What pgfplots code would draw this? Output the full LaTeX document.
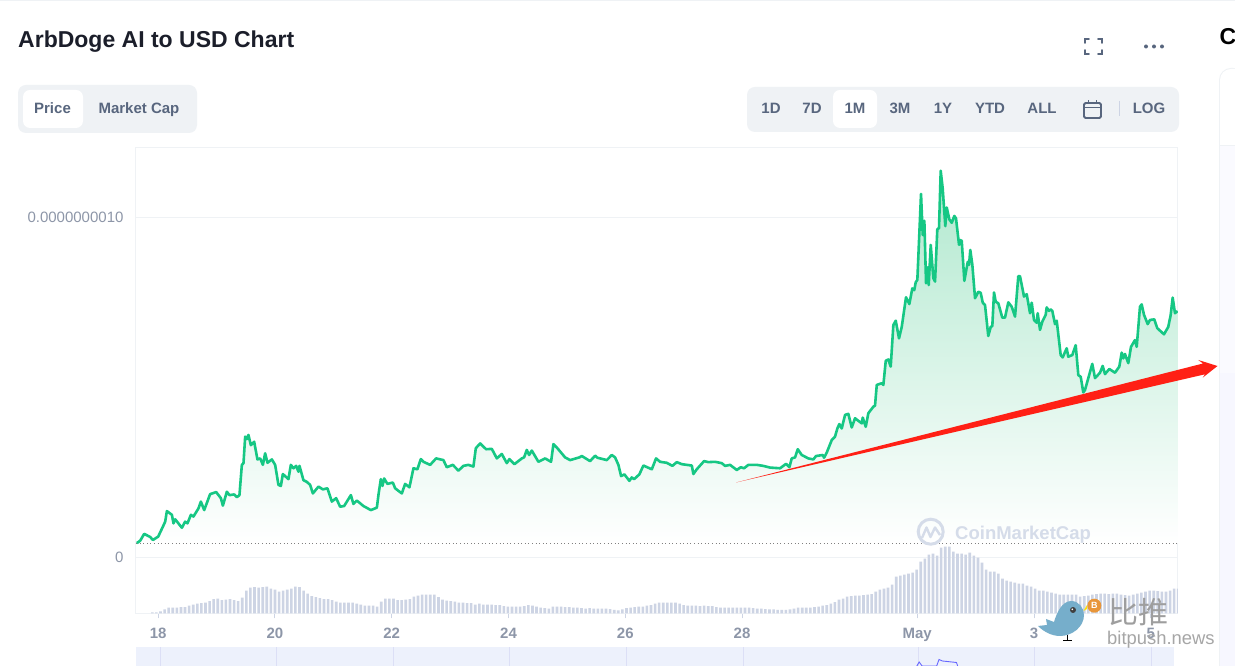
\documentclass[border=0pt]{standalone}
\usepackage{fontspec}
\setmainfont{Liberation Sans}
\newfontfamily\cjk{Noto Sans CJK SC}
\usepackage{pgfplots}
\usepackage{pgfplotstable}
\pgfplotsset{compat=1.18}

\definecolor{cmcgreen}{HTML}{16C784}
\definecolor{fillgreen}{HTML}{B0E8CE}
\definecolor{frame}{HTML}{EFF2F5}
\definecolor{ticktext}{HTML}{8D96A8}
\definecolor{btntext}{HTML}{58667E}
\definecolor{titletext}{HTML}{1B1E2A}
\definecolor{volbar}{HTML}{CDD4E4}
\definecolor{navbg}{HTML}{EDF1FC}
\definecolor{wmark}{HTML}{D5DCE9}
\definecolor{arrowred}{HTML}{FF2015}
\definecolor{birdblue}{HTML}{76AECB}
\definecolor{coin}{HTML}{E8963A}

% x: day (Apr 18 = 18, May 1 = 31), y: price in 1e-12 USD
\pgfplotstableread[row sep=crcr]{
x y\\
17.635 41\\ 17.692 48\\ 17.760 68\\ 17.863 59\\ 17.909 50\\ 18.000 60\\ 18.080 89\\ 18.120 104\\
18.149 135\\ 18.235 124\\ 18.262 99\\ 18.291 111\\ 18.406 86\\ 18.462 104\\ 18.502 99\\ 18.560 124\\
18.604 119\\ 18.690 143\\ 18.731 163\\ 18.788 138\\ 18.890 185\\ 18.993 191\\ 19.074 173\\ 19.108 151\\
19.176 192\\ 19.221 182\\ 19.301 184\\ 19.348 176\\ 19.392 182\\ 19.433 271\\ 19.461 276\\ 19.490 354\\
19.519 347\\ 19.546 359\\ 19.587 329\\ 19.644 339\\ 19.700 287\\ 19.747 290\\ 19.793 271\\ 19.832 305\\
19.872 277\\ 19.947 287\\ 20.003 271\\ 20.060 212\\ 20.101 209\\ 20.135 244\\ 20.231 229\\ 20.272 271\\
20.317 261\\ 20.363 268\\ 20.402 251\\ 20.420 268\\ 20.488 226\\ 20.546 221\\ 20.603 212\\ 20.649 187\\
20.745 207\\ 20.820 199\\ 20.899 202\\ 20.974 163\\ 21.048 173\\ 21.116 148\\ 21.185 150\\ 21.300 182\\
21.344 156\\ 21.402 166\\ 21.515 150\\ 21.642 138\\ 21.745 145\\ 21.772 182\\ 21.813 229\\ 21.841 209\\
21.870 231\\ 21.926 215\\ 22.019 219\\ 22.058 202\\ 22.173 187\\ 22.229 215\\ 22.303 205\\ 22.372 261\\
22.440 258\\ 22.498 288\\ 22.543 280\\ 22.658 271\\ 22.760 290\\ 22.885 285\\ 22.943 264\\ 23.046 271\\
23.142 254\\ 23.228 268\\ 23.313 271\\ 23.399 266\\ 23.440 320\\ 23.514 334\\ 23.616 317\\ 23.714 318\\
23.800 290\\ 23.885 303\\ 23.971 276\\ 24.015 288\\ 24.101 273\\ 24.228 290\\ 24.267 293\\ 24.313 315\\
24.353 300\\ 24.399 313\\ 24.512 280\\ 24.627 290\\ 24.729 280\\ 24.769 332\\ 24.837 320\\ 24.969 293\\
25.055 285\\ 25.214 293\\ 25.255 297\\ 25.397 282\\ 25.483 298\\ 25.522 292\\ 25.683 285\\ 25.769 300\\
25.825 293\\ 25.882 271\\ 25.928 238\\ 25.985 243\\ 26.070 224\\ 26.111 234\\ 26.151 229\\ 26.241 243\\
26.310 269\\ 26.454 258\\ 26.527 290\\ 26.596 280\\ 26.711 277\\ 26.807 268\\ 26.882 279\\ 26.968 273\\
27.139 269\\ 27.166 244\\ 27.224 258\\ 27.349 282\\ 27.423 279\\ 27.538 280\\ 27.652 276\\ 27.709 268\\
27.795 271\\ 27.909 256\\ 27.978 264\\ 28.034 261\\ 28.108 271\\ 28.252 271\\ 28.365 268\\ 28.479 263\\
28.651 261\\ 28.753 274\\ 28.810 264\\ 28.851 290\\ 28.908 293\\ 28.954 317\\ 29.022 300\\ 29.135 290\\
29.221 287\\ 29.267 297\\ 29.382 300\\ 29.404 292\\ 29.450 307\\ 29.536 344\\ 29.592 354\\ 29.632 378\\
29.666 391\\ 29.707 378\\ 29.764 418\\ 29.820 421\\ 29.878 381\\ 29.935 408\\ 30.050 393\\ 30.067 410\\
30.118 383\\ 30.163 423\\ 30.248 442\\ 30.277 445\\ 30.307 506\\ 30.392 511\\ 30.420 506\\ 30.461 577\\
30.505 581\\ 30.546 560\\ 30.591 682\\ 30.632 695\\ 30.688 643\\ 30.735 677\\ 30.808 764\\ 30.865 744\\
30.916 790\\ 30.950 785\\ 30.974 808\\ 31.002 815\\ 31.065 1068\\ 31.094 947\\ 31.122 989\\ 31.151 805\\
31.180 852\\ 31.197 800\\ 31.231 918\\ 31.276 820\\ 31.305 810\\ 31.344 964\\ 31.373 967\\ 31.402 1136\\
31.436 1084\\ 31.481 973\\ 31.505 1028\\ 31.550 993\\ 31.591 983\\ 31.635 1003\\ 31.664 996\\ 31.716 918\\
31.733 932\\ 31.762 930\\ 31.807 812\\ 31.865 868\\ 31.887 859\\ 31.909 903\\ 31.944 859\\ 31.990 761\\
32.046 780\\ 32.087 777\\ 32.122 748\\ 32.161 741\\ 32.217 650\\ 32.259 677\\ 32.286 679\\ 32.315 778\\
32.344 751\\ 32.389 746\\ 32.457 704\\ 32.503 704\\ 32.560 749\\ 32.618 736\\ 32.675 707\\ 32.731 826\\
32.760 826\\ 32.829 766\\ 32.875 773\\ 32.932 717\\ 32.961 748\\ 33.000 697\\ 33.046 689\\ 33.063 717\\
33.103 668\\ 33.142 692\\ 33.200 712\\ 33.217 734\\ 33.257 724\\ 33.286 728\\ 33.313 724\\ 33.360 685\\
33.389 695\\ 33.457 594\\ 33.491 587\\ 33.560 614\\ 33.587 589\\ 33.656 594\\ 33.714 623\\ 33.759 535\\
33.800 530\\ 33.844 484\\ 33.873 491\\ 33.930 526\\ 33.998 568\\ 34.045 526\\ 34.130 542\\ 34.176 562\\
34.216 538\\ 34.290 553\\ 34.387 542\\ 34.461 560\\ 34.502 601\\ 34.529 584\\ 34.558 597\\ 34.615 570\\
34.661 618\\ 34.729 638\\ 34.759 618\\ 34.815 736\\ 34.844 743\\ 34.884 712\\ 34.947 685\\ 34.986 697\\
35.060 699\\ 35.111 673\\ 35.226 655\\ 35.300 677\\ 35.341 712\\ 35.375 763\\ 35.414 717\\ 35.460 723\\
}\pricetable

% volume, relative height
\pgfplotstableread[row sep=crcr]{
x y\\
17.90 1\\ 17.97 1\\ 18.04 2\\ 18.11 4\\ 18.18 6\\ 18.25 6\\ 18.32 6\\ 18.39 6.5\\ 18.46 6.5\\ 18.53 8\\
18.60 9\\ 18.67 10\\ 18.74 10.5\\ 18.81 11\\ 18.88 12.5\\ 18.95 14.5\\ 19.02 15\\ 19.09 13.5\\ 19.16 14\\ 19.23 14.5\\
19.30 13.5\\ 19.37 12.5\\ 19.44 16\\ 19.51 23\\ 19.58 26\\ 19.65 26.5\\ 19.72 26\\ 19.79 26.5\\ 19.86 27\\ 19.93 25\\
20.00 24\\ 20.07 22\\ 20.14 23\\ 20.21 24\\ 20.28 25\\ 20.35 27\\ 20.42 26.5\\ 20.49 23\\ 20.56 20\\ 20.63 17.5\\
20.70 16.5\\ 20.77 15.5\\ 20.84 14.5\\ 20.91 14.5\\ 20.98 13.5\\ 21.05 12\\ 21.12 11\\ 21.19 11\\ 21.26 11\\ 21.33 11\\
21.40 10\\ 21.47 9\\ 21.54 8\\ 21.61 8\\ 21.68 8\\ 21.75 7\\ 21.82 12\\ 21.89 15\\ 21.96 15\\ 22.03 15\\
22.10 13.5\\ 22.17 13.5\\ 22.24 14\\ 22.31 14.5\\ 22.38 17\\ 22.45 18\\ 22.52 19\\ 22.59 19\\ 22.66 19\\ 22.73 19\\
22.80 16.5\\ 22.87 14\\ 22.94 13\\ 23.01 12.5\\ 23.08 12\\ 23.15 11\\ 23.22 11\\ 23.29 10.5\\ 23.36 10.5\\ 23.43 9\\
23.50 10\\ 23.57 9\\ 23.64 9\\ 23.71 9\\ 23.78 8.5\\ 23.85 8.5\\ 23.92 7.5\\ 23.99 7\\ 24.06 7\\ 24.13 7\\
24.20 7\\ 24.27 7.5\\ 24.34 8.5\\ 24.41 8\\ 24.48 7\\ 24.55 6\\ 24.62 5.5\\ 24.69 5\\ 24.76 7\\ 24.83 7\\
24.90 7\\ 24.97 6.5\\ 25.04 6.5\\ 25.11 6\\ 25.18 6\\ 25.25 5.5\\ 25.32 5\\ 25.39 5.5\\ 25.46 5\\ 25.53 5\\
25.60 5\\ 25.67 5\\ 25.74 4.5\\ 25.81 3.5\\ 25.88 3\\ 25.95 4\\ 26.02 5.5\\ 26.09 6\\ 26.16 6.5\\ 26.23 7\\
26.30 7\\ 26.37 8\\ 26.44 8.5\\ 26.51 10\\ 26.58 11\\ 26.65 11\\ 26.72 11\\ 26.79 11\\ 26.86 11\\ 26.93 10\\
27.00 8.5\\ 27.07 8\\ 27.14 8\\ 27.21 8\\ 27.28 7.5\\ 27.35 8\\ 27.42 7.5\\ 27.49 7.5\\ 27.56 6.5\\ 27.63 6\\
27.70 6\\ 27.77 6\\ 27.84 6\\ 27.91 6\\ 27.98 6\\ 28.05 6\\ 28.12 6\\ 28.19 5.5\\ 28.26 5\\ 28.33 5\\
28.40 4.5\\ 28.47 4\\ 28.54 4\\ 28.61 3.5\\ 28.68 3.5\\ 28.75 3.5\\ 28.82 4\\ 28.89 5\\ 28.96 6\\ 29.03 6\\
29.10 6\\ 29.17 6\\ 29.24 6.5\\ 29.31 7\\ 29.38 8\\ 29.45 8.5\\ 29.52 10\\ 29.59 11.5\\ 29.66 14\\ 29.73 15\\
29.80 17\\ 29.87 17.5\\ 29.94 18\\ 30.01 18\\ 30.08 18.5\\ 30.15 19\\ 30.22 19.5\\ 30.29 22\\ 30.36 24\\ 30.43 25\\
30.50 26\\ 30.57 29\\ 30.64 37\\ 30.71 38\\ 30.78 39\\ 30.85 40\\ 30.92 41\\ 30.99 44\\ 31.06 52\\ 31.13 55\\
31.20 59\\ 31.27 60\\ 31.34 58\\ 31.41 66\\ 31.48 67\\ 31.55 67\\ 31.62 62\\ 31.69 60\\ 31.76 60\\ 31.83 59\\
31.90 61\\ 31.97 58\\ 32.04 56\\ 32.11 51\\ 32.18 44\\ 32.25 42\\ 32.32 42\\ 32.39 40\\ 32.46 35\\ 32.53 33\\
32.60 32\\ 32.67 31\\ 32.74 30\\ 32.81 30\\ 32.88 28\\ 32.95 27\\ 33.02 25\\ 33.09 23\\ 33.16 23\\ 33.23 22\\
33.30 21\\ 33.37 20\\ 33.44 19\\ 33.51 19\\ 33.58 19\\ 33.65 19\\ 33.72 19\\ 33.79 17\\ 33.86 17.5\\ 33.93 18\\
34.00 19\\ 34.07 19.5\\ 34.14 20\\ 34.21 20\\ 34.28 19.5\\ 34.35 20\\ 34.42 20\\ 34.49 19\\ 34.56 18.5\\ 34.63 18\\
34.70 19\\ 34.77 20\\ 34.84 21\\ 34.91 22\\ 34.98 23\\ 35.05 23\\ 35.12 22.5\\ 35.19 22\\ 35.26 22\\ 35.33 23\\
35.40 25\\ 35.47 25\\
}\voltable

\begin{document}
\begin{tikzpicture}
\path[use as bounding box] (0pt,0pt) rectangle (1235pt,666pt);

% page furniture, in reference pixels
\begin{scope}[x=1pt,y=-1pt,yshift=666pt]
\fill[white] (0,0) rectangle (1235,666);
\fill[frame] (0,0) rectangle (1235,1.2);
\node[anchor=base west,text=titletext,font=\fontsize{23}{25}\selectfont\bfseries,inner sep=0pt] at (18,48) {ArbDoge AI to USD Chart};
% price / market cap toggle
\fill[frame,rounded corners=8pt] (18,85) rectangle (197,133);
\fill[white,rounded corners=7pt] (23,90) rectangle (83,128);
\node[anchor=base,text=btntext,font=\fontsize{15}{16}\selectfont\bfseries,inner sep=0pt] at (52.5,114) {Price};
\node[anchor=base,text=btntext,font=\fontsize{15}{16}\selectfont\bfseries,inner sep=0pt] at (139,114) {Market Cap};
% range buttons
\fill[frame,rounded corners=8pt] (747,87) rectangle (1179,132);
\fill[white,rounded corners=7pt] (833,90) rectangle (877,128);
\foreach \xx/\tt in {771/1D,812/7D,855/1M,900/3M,943/1Y,990/YTD,1042/ALL,1149/LOG}
  \node[anchor=base,text=btntext,font=\fontsize{15}{16}\selectfont\bfseries,inner sep=0pt] at (\xx,114) {\tt};
\draw[btntext,line width=1.8pt,rounded corners=1.5pt] (1084,103) rectangle (1101,118);
\draw[btntext,line width=1.8pt] (1084,107.5) -- (1101,107.5) (1088.5,100.5) -- (1088.5,104) (1096.5,100.5) -- (1096.5,104);
\draw[volbar,line width=0.8pt] (1119,101) -- (1119,116);
% fullscreen and menu icons
\draw[btntext,line width=1.6pt,line cap=round]
  (1085,43) -- (1085,39) -- (1089,39) (1098,39) -- (1102,39) -- (1102,43)
  (1085,50) -- (1085,54) -- (1089,54) (1098,54) -- (1102,54) -- (1102,50);
\fill[btntext] (1146,46.5) circle (2) (1154,46.5) circle (2) (1162,46.5) circle (2);
% right hand panel
\node[anchor=base west,text=black,font=\fontsize{23}{25}\selectfont\bfseries,inner sep=0pt] at (1219.5,45) {C};
\fill[frame,rounded corners=12pt] (1219,68) rectangle (1245,680);
\fill[white,rounded corners=11pt] (1220,69) rectangle (1245,680);
\fill[frame] (1220,145) rectangle (1235,146);
\fill[blue!2] (1220,146) rectangle (1235,666);
\fill[blue!3] (1220,373) rectangle (1235,666);
\end{scope}

% price
\begin{axis}[
at={(136pt,52pt)}, anchor=south west,
width=1042pt, height=466pt, scale only axis,
xmin=17.62, xmax=35.466,
ymin=-167.6, ymax=1202.9,
axis line style={frame,line width=1pt},
xtick={18,20,22,24,26,28,31,33,35},
xticklabels={18,20,22,24,26,28,\textbf{May},3,5},
xtick pos=bottom, xtick align=outside,
major tick length=4.5pt,
x tick style={volbar,line width=1pt},
xticklabel style={text=ticktext,font=\fontsize{15}{16}\selectfont\bfseries,yshift=-6pt},
ytick={0,1000},
yticklabels={0,0.0000000010},
ytick pos=left,
y tick style={draw=none},
yticklabel style={text=ticktext,font=\fontsize{15}{16}\selectfont,xshift=-9pt},
ymajorgrids, grid style={frame,line width=0.8pt},
axis on top=false,
]
\addplot[draw=none,top color=fillgreen,bottom color=white] table[x=x,y=y] {\pricetable} -- (axis cs:35.460,41) -- cycle;
\addplot[gray,line width=0.8pt,dash pattern=on 1pt off 2.6pt] coordinates {(17.62,41)(35.466,41)};
\addplot[cmcgreen,line width=2.6pt,line join=round] table[x=x,y=y] {\pricetable};
\end{axis}

% volume
\begin{axis}[
at={(136pt,52pt)}, anchor=south west,
width=1042pt, height=466pt, scale only axis,
xmin=17.62, xmax=35.466,
ymin=-0.5, ymax=466,
axis lines=none,
]
\addplot[ybar,bar shift=0pt,bar width=2.6pt,fill=volbar,draw=none] table[x=x,y=y] {\voltable};
\end{axis}

% navigator
\begin{axis}[
at={(136pt,0pt)}, anchor=south west,
width=1038pt, height=19pt, scale only axis,
xmin=17.59, xmax=35.39,
ymin=0, ymax=19,
axis background/.style={fill=navbg},
axis line style={draw=none},
xtick={18,20,22,24,26,28,31,33,35},
xticklabels={},
xmajorgrids, grid style={blue!8!frame,line width=0.8pt},
major tick length=0pt,
ytick=\empty,
]
\addplot[blue!60!white,line width=0.9pt] coordinates {
(30.98,0)(31.02,4)(31.07,0)(31.32,0)(31.36,6.5)(31.42,5)(31.50,4.5)(31.66,3.5)(31.68,0)};
\end{axis}

% watermark, red arrow and bitpush stamp, in reference pixels
\begin{scope}[x=1pt,y=-1pt,yshift=666pt]
\draw[wmark,line width=3pt] (930.7,531.7) circle (12.5);
\draw[wmark,line width=2.4pt,line join=round] (922,538) -- (926.5,527.5) -- (930.5,537) -- (935,527.5) -- (940,535);
\node[anchor=base west,text=wmark,font=\fontsize{18.5}{20}\selectfont\bfseries,inner sep=0pt] at (955,540) {CoinMarketCap};
\fill[arrowred] (736,482.5) -- (1203,363.5) -- (1198.3,360) -- (1217.5,366) -- (1202.7,377.7) -- (1205,374.3) -- cycle;
\fill[birdblue] (1038,626) -- (1047,625) -- (1046,619) -- (1054,622)
  .. controls (1057,612) and (1062,601.5) .. (1071,601)
  .. controls (1079,601) and (1084,608) .. (1084,615)
  .. controls (1084,627) and (1072,636) .. (1060,636)
  .. controls (1052,636) and (1044,632) .. (1038,626) -- cycle;
\fill[black!75] (1073,610) circle (3);
\fill[white] (1072.3,609.3) circle (0.9);
\draw[black,line width=0.8pt] (1067.5,635) -- (1067.5,640) (1063,640.5) -- (1072,640.5);
\fill[yellow!85!orange] (1083.5,611) -- (1087,605) -- (1087,609) -- cycle;
\fill[coin] (1094.3,605.7) circle (7);
\node[text=white,font=\fontsize{9}{9}\selectfont\bfseries,inner sep=0pt] at (1094.3,605.7) {B};
\node[anchor=west,text=black!38,font=\cjk\fontsize{30}{32}\selectfont,inner sep=0pt] at (1108,612) {比推};
\node[anchor=base west,text=black!35,font=\fontsize{18.4}{20}\selectfont,inner sep=0pt] at (1107,645) {bitpush.news};
\end{scope}
\end{tikzpicture}
\end{document}
